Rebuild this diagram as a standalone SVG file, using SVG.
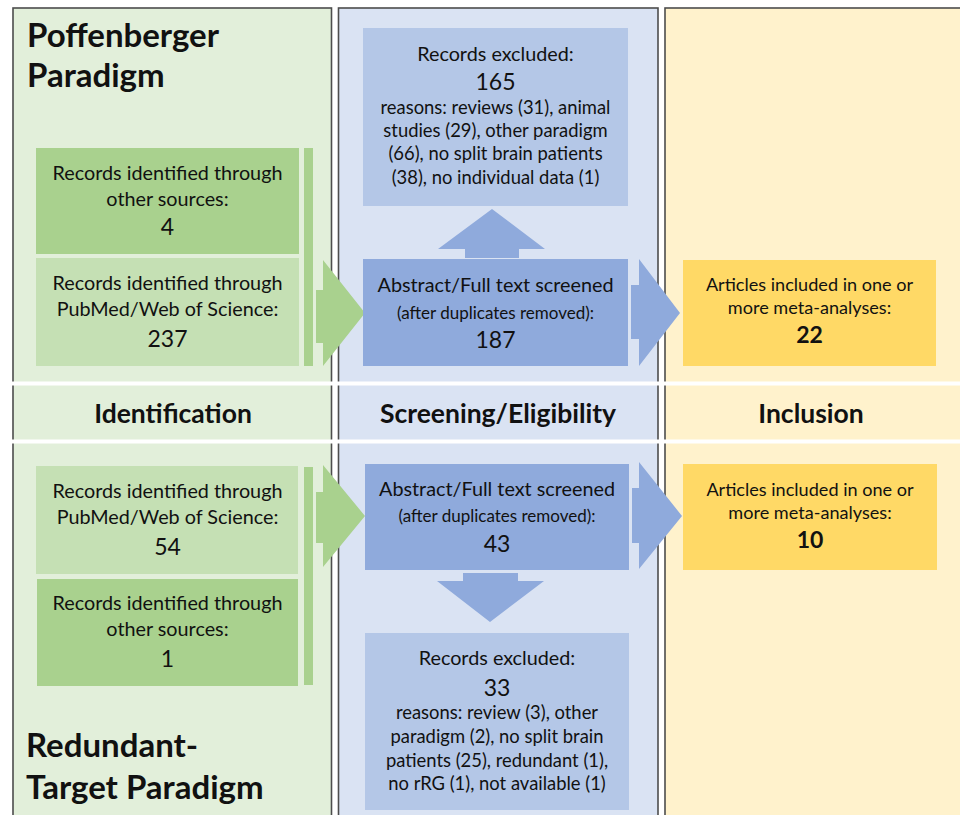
<svg xmlns="http://www.w3.org/2000/svg" width="960" height="815" viewBox="0 0 960 815">
  <style>
    text { font-family: Lato, "Liberation Sans", sans-serif; fill: #111; text-anchor: middle; }
    .col { stroke: #4d4d4d; stroke-width: 1.6; }
    .title { font-size: 33px; font-weight: bold; text-anchor: start; }
    .head { font-size: 26.5px; font-weight: bold; }
    .body { font-size: 19.8px; }
    .note { font-size: 17px; }
    .reason { font-size: 18.4px; }
    .art { font-size: 18.1px; }
    .num { font-size: 23px; }
    .bold { font-weight: bold; }
    .gDark { fill: #a9d18e; }
    .gLight { fill: #c5e0b4; }
    .bDark { fill: #8faadc; }
    .bLight { fill: #b4c7e7; }
    .yel { fill: #ffd966; }
  </style>

  <rect width="960" height="815" fill="#ffffff"/>

  <!-- column backgrounds -->
  <g id="columns">
    <rect class="col" x="13" y="8" width="318.5" height="820" fill="#e2efda"/>
    <rect class="col" x="338.5" y="8" width="319.5" height="820" fill="#dae3f3"/>
    <rect class="col" x="665" y="8" width="310" height="820" fill="#fff2cc"/>
  </g>

  <!-- white separators around the phase header row -->
  <rect x="0" y="381.5" width="960" height="4" fill="#ffffff"/>
  <rect x="0" y="439.5" width="960" height="4" fill="#ffffff"/>

  <!-- section titles -->
  <g id="titles">
    <text class="title" x="27" y="47">Poffenberger</text>
    <text class="title" x="27" y="87">Paradigm</text>
    <text class="title" x="26" y="757">Redundant-</text>
    <text class="title" x="26" y="799">Target Paradigm</text>
  </g>

  <!-- phase headers -->
  <g id="headers">
    <text class="head" x="173" y="423">Identification</text>
    <text class="head" x="498" y="423">Screening/Eligibility</text>
    <text class="head" x="811" y="423">Inclusion</text>
  </g>

  <!-- connectors: block arrows -->
  <g id="connectors">
    <!-- side bars joining the identification boxes -->
    <rect class="gDark" x="304" y="148" width="9" height="218"/>
    <rect class="gDark" x="304" y="467" width="9" height="218"/>
    <!-- identification -> screening -->
    <polygon class="gDark" points="316,290 323,290 323,260 365,313 323,366 323,343 316,343"/>
    <polygon class="gDark" points="316,492 323,492 323,465 365,516 323,567 323,543 316,543"/>
    <!-- screening -> excluded -->
    <polygon class="bDark" points="465,258 465,249 438,249 492,209 545,249 519,249 519,258"/>
    <polygon class="bDark" points="463,573 518,573 518,581 544,581 490,622 437,581 463,581"/>
    <!-- screening -> inclusion -->
    <polygon class="bDark" points="631,285 639,285 639,259 680,313 639,366 639,339 631,339"/>
    <polygon class="bDark" points="632,488 639,488 639,462 682,516 639,569 639,543 632,543"/>
  </g>

  <!-- Poffenberger paradigm -->
  <g id="pf-other">
    <rect class="gDark" x="36" y="148" width="263" height="106"/>
    <text class="body" x="167.5" y="180">Records identified through</text>
    <text class="body" x="167.5" y="206">other sources:</text>
    <text class="num" x="167.5" y="235">4</text>
  </g>
  <g id="pf-pubmed">
    <rect class="gLight" x="36" y="258" width="263" height="108"/>
    <text class="body" x="167.5" y="290">Records identified through</text>
    <text class="body" x="167.5" y="316">PubMed/Web of Science:</text>
    <text class="num" x="167.5" y="347">237</text>
  </g>
  <g id="pf-excluded">
    <rect class="bLight" x="363" y="28" width="265" height="178"/>
    <text class="body" x="495.5" y="61">Records excluded:</text>
    <text class="num" x="495.5" y="90">165</text>
    <text class="reason" x="495.5" y="114">reasons: reviews (31), animal</text>
    <text class="reason" x="495.5" y="137">studies (29), other paradigm</text>
    <text class="reason" x="495.5" y="160">(66), no split brain patients</text>
    <text class="reason" x="495.5" y="184">(38), no individual data (1)</text>
  </g>
  <g id="pf-screened">
    <rect class="bDark" x="363" y="259" width="265" height="107"/>
    <text class="body" x="495.5" y="292">Abstract/Full text screened</text>
    <text class="note" x="495.5" y="319">(after duplicates removed):</text>
    <text class="num" x="495.5" y="348">187</text>
  </g>
  <g id="pf-included">
    <rect class="yel" x="683" y="260" width="253" height="106"/>
    <text class="art" x="809.5" y="291">Articles included in one or</text>
    <text class="art" x="809.5" y="314">more meta-analyses:</text>
    <text class="num bold" x="809.5" y="343">22</text>
  </g>

  <!-- Redundant-target paradigm -->
  <g id="rt-pubmed">
    <rect class="gLight" x="36" y="466" width="262" height="108"/>
    <text class="body" x="167.5" y="498">Records identified through</text>
    <text class="body" x="167.5" y="524">PubMed/Web of Science:</text>
    <text class="num" x="167.5" y="555">54</text>
  </g>
  <g id="rt-other">
    <rect class="gDark" x="37" y="579" width="261" height="107"/>
    <text class="body" x="167.5" y="610">Records identified through</text>
    <text class="body" x="167.5" y="636">other sources:</text>
    <text class="num" x="167.5" y="667">1</text>
  </g>
  <g id="rt-screened">
    <rect class="bDark" x="365" y="464" width="264" height="106"/>
    <text class="body" x="497" y="496">Abstract/Full text screened</text>
    <text class="note" x="497" y="522">(after duplicates removed):</text>
    <text class="num" x="497" y="552">43</text>
  </g>
  <g id="rt-excluded">
    <rect class="bLight" x="365" y="633" width="264" height="177"/>
    <text class="body" x="497" y="665">Records excluded:</text>
    <text class="num" x="497" y="696">33</text>
    <text class="reason" x="497" y="719">reasons: review (3), other</text>
    <text class="reason" x="497" y="743">paradigm (2), no split brain</text>
    <text class="reason" x="497" y="767">patients (25), redundant (1),</text>
    <text class="reason" x="497" y="790">no rRG (1), not available (1)</text>
  </g>
  <g id="rt-included">
    <rect class="yel" x="683" y="464" width="254" height="106"/>
    <text class="art" x="810" y="496">Articles included in one or</text>
    <text class="art" x="810" y="519">more meta-analyses:</text>
    <text class="num bold" x="810" y="548">10</text>
  </g>
</svg>
